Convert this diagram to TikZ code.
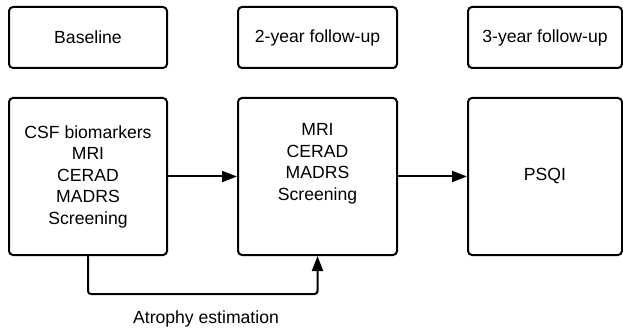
\documentclass[tikz,border=0pt]{standalone}
\usepackage{fontspec}
\setmainfont{Liberation Sans}
\usepackage{tikz}
\usetikzlibrary{positioning}
\usetikzlibrary{arrows.meta}
\tikzset{>=stealth}
\tikzstyle{stage} = [draw, rounded corners=4pt, line width=2pt,
align=center, inner sep=0pt]
\tikzstyle{line} = [draw, -{Triangle[length=15pt,width=11pt]}]

\begin{document}
\begin{tikzpicture}[x=1pt, y=-1pt,
  every node/.style={font=\fontsize{17.6}{21.5}\selectfont},
  header/.style={stage, minimum height=61pt},
  tall/.style={stage, minimum height=157pt}]
  \useasboundingbox (0,0) rectangle (623,331);
  %% Time points
  \node [header, minimum width=158pt] (T0) at (88,37.5) {Baseline};
  \node [header, minimum width=159pt] (T2) at (317.5,37.5) {2-year follow-up};
  \node [header, minimum width=154pt] (T3) at (545,37.5) {3-year follow-up};
  %%
  \node [tall, minimum width=158pt] (M0) at (88,176.5)
  {CSF biomarkers\\MRI\\CERAD\\MADRS\\Screening};
  \node [tall, minimum width=159pt] (M2) at (317.5,176.5)
  {MRI\\CERAD\\MADRS\\Screening\\[8pt]};
  \node [tall, minimum width=154pt] (M3) at (545,176.5) {PSQI};
  %% Arrows
  \path [line, line width=2pt] (M0) to (M2);
  \path [line, line width=2pt] (M2) to (M3);
  \path [line, line width=2pt, rounded corners=3pt] (M0.south) -- ++(0,38)
  -| (M2.south);
  %% The loop label
  \node[align=center,text=black] (atrophy) at (206,319)
  {Atrophy estimation};
\end{tikzpicture}
\end{document}
